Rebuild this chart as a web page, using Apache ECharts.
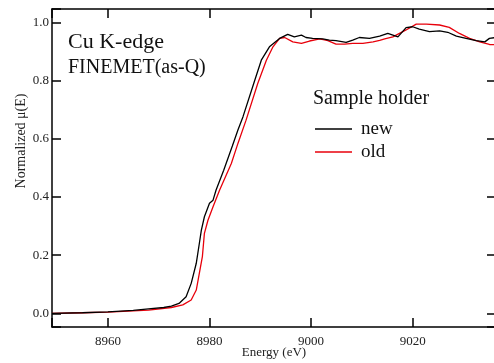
<!DOCTYPE html>
<html>
<head>
<meta charset="utf-8">
<script src="https://cdn.jsdelivr.net/npm/echarts@6/dist/echarts.min.js"></script>
<style>html,body{margin:0;padding:0;background:#fff}#c{width:494px;height:363px}</style>
</head>
<body>
<div id="c"></div>
<script>
// Energy (eV) and normalized mu(E) for the "new" holder
const newE = [8949, 8955, 8960, 8965, 8968, 8971, 8972.5, 8974, 8975.4, 8976.4, 8977.4, 8978.0, 8978.4, 8979.0, 8980.0, 8980.7, 8981.3, 8982.8, 8984.5, 8985.6, 8986.6, 8988.9, 8990.2, 8991.8, 8993.8, 8995.4, 8996.7, 8998.1, 8999.0, 9000.3, 9002.3, 9003.6, 9004.9, 9006.9, 9008.2, 9009.5, 9011.5, 9013.5, 9015.1, 9017.1, 9018.7, 9020.0, 9021.3, 9023.3, 9025.3, 9026.9, 9028.6, 9030.5, 9032.5, 9034.2, 9035.1, 9036.4];
const newMu = [0.0, 0.002, 0.005, 0.010, 0.015, 0.020, 0.025, 0.034, 0.057, 0.103, 0.172, 0.240, 0.286, 0.332, 0.378, 0.389, 0.424, 0.492, 0.575, 0.630, 0.676, 0.800, 0.870, 0.916, 0.945, 0.959, 0.950, 0.956, 0.948, 0.945, 0.943, 0.939, 0.937, 0.931, 0.939, 0.948, 0.945, 0.953, 0.962, 0.950, 0.982, 0.985, 0.977, 0.968, 0.971, 0.966, 0.953, 0.945, 0.937, 0.933, 0.945, 0.948];
// Energy (eV) and normalized mu(E) for the "old" holder
const oldE = [8949, 8955, 8960, 8968, 8972.5, 8974.75, 8976.4, 8977.4, 8978.0, 8978.6, 8979.0, 8979.7, 8980.7, 8982.0, 8984.3, 8985.6, 8987.2, 8989.5, 8991.2, 8992.5, 8993.8, 8994.8, 8996.4, 8998.1, 8999.7, 9001.7, 9003.3, 9004.9, 9006.6, 9008.2, 9010.2, 9012.2, 9013.5, 9014.5, 9016.1, 9018.7, 9020.7, 9022.7, 9025.3, 9027.2, 9029.2, 9031.2, 9033.2, 9035.1, 9036.4];
const oldMu = [0.0, 0.002, 0.004, 0.011, 0.020, 0.029, 0.046, 0.080, 0.137, 0.195, 0.275, 0.320, 0.366, 0.424, 0.515, 0.584, 0.664, 0.790, 0.870, 0.916, 0.945, 0.948, 0.933, 0.928, 0.936, 0.943, 0.937, 0.925, 0.925, 0.928, 0.928, 0.933, 0.938, 0.943, 0.950, 0.974, 0.994, 0.994, 0.991, 0.983, 0.962, 0.945, 0.933, 0.924, 0.923];
const seriesNames = ['new', 'old'];
const xTickLabels = ['8960', '8980', '9000', '9020'];
const yTickLabels = ['0.0', '0.2', '0.4', '0.6', '0.8', '1.0'];
const titleLines = ['Cu K-edge', 'FINEMET(as-Q)'];
const legendTitle = 'Sample holder';
const xName = 'Energy (eV)';
const yName = 'Normalized \u03bc(E)';

const FONT = '"Liberation Serif", "Times New Roman", serif';
const pair = (xs, ys) => xs.map((x, i) => [x, ys[i]]);
const near = (v, list) => list.find(t => Math.abs(parseFloat(t) - v) < 1e-6);

const chart = echarts.init(document.getElementById('c'), null, {renderer: 'canvas'});
const axisCommon = {
  axisLine: {show: true, onZero: false, lineStyle: {color: '#000', width: 1.5}},
  axisTick: {show: true, inside: true, length: 9, lineStyle: {color: '#000', width: 1.5}},
  splitLine: {show: false}
};
chart.setOption({
  animation: false,
  backgroundColor: '#fff',
  grid: {left: 52, right: -2, top: 9, bottom: 36, containLabel: false, outerBoundsMode: 'none'},
  xAxis: [
    Object.assign({
      type: 'value', min: 8949, max: 9036.4, position: 'bottom',
      name: xName, nameLocation: 'middle', nameGap: 19, nameMoveOverlap: false,
      nameTextStyle: {fontFamily: FONT, fontSize: 13, color: '#222'},
      axisLabel: {margin: 8, fontFamily: FONT, fontSize: 13, color: '#222',
        formatter: v => near(v, xTickLabels) || ''}
    }, axisCommon),
    Object.assign({
      type: 'value', min: 8949, max: 9036.4, position: 'top',
      axisLabel: {show: false}
    }, axisCommon)
  ],
  yAxis: [
    Object.assign({
      type: 'value', min: -0.047, max: 1.046, position: 'left',
      axisLabel: {margin: 3, fontFamily: FONT, fontSize: 13, color: '#222',
        formatter: v => near(v, yTickLabels) || ''}
    }, axisCommon),
    Object.assign({
      type: 'value', min: -0.047, max: 1.046, position: 'right',
      axisLabel: {show: false}
    }, axisCommon)
  ],
  legend: {
    data: seriesNames, orient: 'vertical', left: 310, top: 114,
    icon: 'rect', itemWidth: 37, itemHeight: 1.6, itemGap: 3,
    textStyle: {fontFamily: FONT, fontSize: 19, color: '#111', lineHeight: 20, padding: [0, 0, 0, 4]}
  },
  graphic: [
    {type: 'text', left: 68, top: 31, style: {text: titleLines[0], font: '22px ' + FONT, fill: '#111'}},
    {type: 'text', left: 68, top: 58, style: {text: titleLines[1], font: '20px ' + FONT, fill: '#111'}},
    {type: 'text', left: 313, top: 89, style: {text: legendTitle, font: '20px ' + FONT, fill: '#111'}},
    {type: 'text', x: 21, y: 141, rotation: Math.PI / 2,
      style: {text: yName, font: '14px ' + FONT, fill: '#222', align: 'center', verticalAlign: 'middle'}}
  ],
  series: [
    {name: seriesNames[0], type: 'line', data: pair(newE, newMu), showSymbol: false, symbol: 'none',
      lineStyle: {color: '#000', width: 1.3}, itemStyle: {color: '#000'}, z: 3},
    {name: seriesNames[1], type: 'line', data: pair(oldE, oldMu), showSymbol: false, symbol: 'none',
      lineStyle: {color: '#e8000b', width: 1.3}, itemStyle: {color: '#e8000b'}, z: 2}
  ]
});
</script>
</body>
</html>
